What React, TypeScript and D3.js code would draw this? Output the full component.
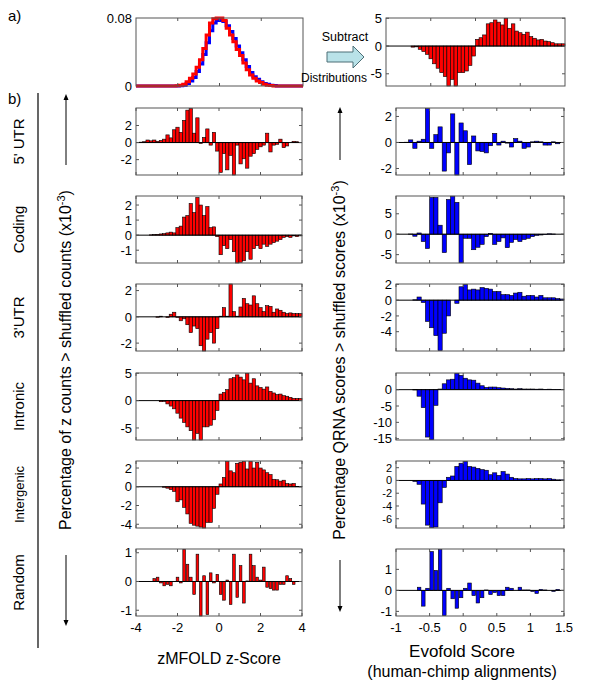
import React, { useEffect, useRef } from 'react';
import * as d3 from 'd3';

// zMFOLD z-score histogram bins: -4 .. 4, width 0.16
const zStep = 0.16;
const zEdges = d3.range(50).map((i) => -4 + i * zStep);
// Evofold score histogram bins: -1 .. 1.5, width 0.0625
const evoStep = 0.0625;
const evoEdges = d3.range(40).map((i) => -1 + i * evoStep);

// panel a) left: z-score densities (real vs shuffled)
const realZDensity = [
  0, 0, 0, 0, 0, 0, 0, 0, 0, 0,
  0, 0, 0.0003, 0.001, 0.002, 0.005, 0.009, 0.014, 0.022, 0.031,
  0.044, 0.06, 0.074, 0.079, 0.08, 0.08, 0.077, 0.068, 0.06, 0.052,
  0.043, 0.036, 0.027, 0.019, 0.013, 0.009, 0.006, 0.004, 0.002, 0.001,
  0.0005, 0, 0, 0, 0, 0, 0, 0, 0, 0,
];
const shuffledZDensity = [
  0, 0, 0, 0, 0, 0, 0, 0, 0, 0,
  0, 0, 0, 0.0003, 0.001, 0.003, 0.006, 0.01, 0.017, 0.026,
  0.037, 0.051, 0.065, 0.074, 0.077, 0.077, 0.076, 0.071, 0.064, 0.056,
  0.047, 0.039, 0.031, 0.023, 0.016, 0.011, 0.008, 0.005, 0.003, 0.002,
  0.001, 0.0005, 0, 0, 0, 0, 0, 0, 0, 0,
];

// panel b) left column: zMFOLD differences (x10^-3)
const utr5Z = [
  0, 0.05, 0.1, 0.3, 0.2, 0.3, 0.15, 0.25, 0.4, 0.9,
  0.55, 1.5, 1.8, 1.2, 2.6, 3.8, 4.0, 1.1, 2.9, -0.1,
  0.6, 1.6, -0.3, 1.2, -1.0, -3.5, -1.3, -3.2, -1.5, -3.8,
  -0.3, -2.5, -1.9, -3.0, -1.6, -1.3, -0.8, -0.5, -0.3, 1.1,
  -1.1, -0.3, -0.2, 0.4, -0.6, -0.4, 0, 0.15, 0.1, 0,
];
const codingZ = [
  0, 0, 0, 0, 0.02, 0.03, 0.05, 0.08, 0.1, 0.15,
  0.2, 0.15, 0.5, 0.6, 1.2, 1.3, 2.1, 1.5, 2.5, 2.0,
  1.3, 1.9, 0.5, 0.55, -0.1, -1.3, -0.7, -0.9, -0.3, -1.1,
  -1.85, -1.8, -1.7, -1.1, -1.6, -0.9, -0.7, -0.9, -0.6, -0.75,
  -0.6, -0.5, -0.4, -0.3, -0.15, -0.1, -0.15, -0.05, -0.1, -0.05,
];
const utr3Z = [
  0, 0, 0, 0, 0, 0, -0.03, 0.05, 0, -0.05,
  0.2, 0.35, -0.05, -0.3, -0.15, -0.6, -1.2, -0.7, -0.9, -2.2,
  -2.6, -1.7, -1.2, -2.0, -0.9, 0.05, 0.7, 0.05, 2.5, 0.4,
  0.05, 0.75, 1.4, 1.0, 0.9, 1.6, 1.0, 0.7, 0.4, 0.85,
  0.8, 0.35, 0.6, 0.5, 0.35, 0.25, 0.3, 0.25, 0.25, 0.25,
];
const intronicZ = [
  0, 0, 0, 0, 0, 0, 0, -0.2, -0.15, -0.6,
  -1.0, -1.5, -2.3, -3.2, -4.0, -4.8, -5.5, -7.2, -6.0, -7.2,
  -4.8, -4.8, -4.5, -3.5, -1.8, 1.2, 1.5, 2.0, 4.0, 4.2,
  4.7, 4.3, 3.8, 5.0, 3.2, 4.0, 2.7, 2.4, 2.1, 2.5,
  1.7, 1.4, 1.1, 1.2, 0.9, 0.8, 0.6, 0.4, 0.4, 0.4,
];
const intergenicZ = [
  0, 0, 0, 0, 0, 0, 0, 0, -0.05, -0.15,
  -0.3, -0.5, -1.6, -1.4, -2.2, -2.9, -3.9, -4.1, -4.2, -4.3,
  -4.4, -3.8, -3.8, -2.3, -0.8, 0.3, 1.0, 2.7, 1.7, 1.5,
  2.5, 2.6, 2.7, 1.9, 2.7, 2.0, 2.6, 2.0, 1.8, 1.5,
  1.3, 0.8, 0.75, 0.6, 0.7, 0.35, 0.3, 0.35, 0.05, 0.05,
];
const randomZ = [
  0, 0, 0, 0, 0, 0.1, 0.15, -0.05, -0.15, -0.1,
  -0.15, 0, 0.15, -0.05, 1.12, 0.6, 0.15, -0.45, 0.95, -1.2,
  0.2, -1.15, 0.3, -0.05, 0.25, -0.45, -0.65, 0.05, -0.8, 0.95,
  -0.55, 0.55, -0.75, 0.02, 0.95, 0.55, 0.15, 0.05, 0.5, -0.2,
  -0.25, -0.3, -0.3, -0.1, -0.1, 0.2, 0.1, -0.1, 0, 0,
];

// panel b) right column: QRNA/Evofold differences (x10^-3)
const utr5Evo = [
  0, 0, 0.02, 0.2, -0.45, 0.1, 0.25, 2.6, -0.45, 0.6,
  1.2, -2.2, -0.8, 2.2, -2.5, 1.5, 0.9, -1.7, 0.5, -0.65,
  -0.7, -0.8, -0.25, 0.7, -0.2, 0.1, -0.05, -0.35, 0.3, 0.1,
  -0.45, -0.35, 0.05, 0.1, 0.05, -0.2, -0.2, 0.05, -0.1, 0,
];
const codingEvo = [
  0, 0, 0, 0.05, -0.5, 0.3, -1.8, -3.5, 9.0, 9.0,
  2.2, -4.5, 8.5, 9.3, 7.8, -7.0, -1.0, -1.0, -3.8, -3.2,
  -2.5, -0.6, 0.2, -2.5, -1.8, -0.9, -3.3, -2.0, -1.3, -1.8,
  -1.3, -1.0, -0.6, -0.3, -0.2, -0.1, 0.1, 0.05, 0, 0,
];
const utr3Evo = [
  0, 0, 0, 0, 0.05, 0.4, -0.3, -2.7, -3.5, -4.5,
  -6.4, -4.2, -2.0, 0, -0.4, 1.7, 2.0, 1.3, 1.4, 1.3,
  1.6, 1.5, 1.4, 1.1, 1.1, 0.7, 0.7, 0.6, 0.9, 1.0,
  0.5, 0.6, 0.6, 0.4, 0.6, 0.3, 0.3, 0.3, 0.2, 0.15,
];
const intronicEvo = [
  0, 0, 0, 0, -0.1, -2.0, -5.5, -14.5, -15.3, -4.8,
  0.2, 1.8, 3.0, 3.2, 5.0, 4.4, 3.5, 3.0, 2.9, 2.0,
  1.2, 0.7, 0.8, 0.8, 0.6, 0.5, 0.4, 0.3, 0.2, 0.3,
  0.2, 0.2, 0.2, 0.15, 0.2, 0.1, 0.15, 0.1, 0.1, 0.1,
];
const intergenicEvo = [
  0, 0, 0, 0, -0.15, -0.6, -3.7, -7.0, -7.4, -7.3,
  -3.5, -1.1, 0.5, 0.7, 2.2, 2.7, 3.0, 2.2, 2.1, 1.9,
  1.7, 1.6, 0.9, 1.2, 0.8, 1.4, 1.0, 0.5, 0.3, 0.25,
  0.25, 0.3, 0.25, 0.3, 0.3, 0.25, 0.3, 0.2, 0.1, 0.1,
];
const randomEvo = [
  0, 0, 0, 0, 0, 0.15, -0.75, 0.1, 1.85, 0.95,
  1.95, -1.2, 0.1, -0.4, -0.85, -0.35, 0.1, 0.35, -0.25, -0.6,
  -0.35, 0.02, -0.2, -0.1, -0.25, -0.25, 0.15, 0.1, 0, 0.15,
  0.02, 0.02, -0.05, -0.15, 0.05, 0.02, 0, -0.05, 0.05, 0,
];

const rowNames = ["5' UTR", 'Coding', "3'UTR", 'Intronic', 'Intergenic', 'Random'];
const zSeries = [utr5Z, codingZ, utr3Z, intronicZ, intergenicZ, randomZ];
const evoSeries = [utr5Evo, codingEvo, utr3Evo, intronicEvo, intergenicEvo, randomEvo];
const zDomains = [[-3.8, 4.05], [-1.85, 2.6], [-2.6, 2.5], [-7.2, 5.05], [-4.4, 2.75], [-1.2, 1.13]];
const evoDomains = [[-2.5, 2.65], [-7.05, 9.35], [-6.45, 2.05], [-15.4, 5.1], [-7.45, 3.05], [-1.22, 1.97]];
const zYTicks = [[-2, 0, 2], [-1, 0, 1, 2], [-2, 0, 2], [-5, 0, 5], [-4, -2, 0, 2], [-1, 0, 1]];
const evoYTicks = [[-2, 0, 2], [-5, 0, 5], [-4, -2, 0, 2], [-15, -10, -5, 0], [-6, -4, -2, 0, 2], [-1, 0, 1]];
const zXTicks = [-4, -2, 0, 2, 4];
const evoXTicks = [-1, -0.5, 0, 0.5, 1, 1.5];

const App = () => {
  const svgRef = useRef<SVGSVGElement>(null);

  useEffect(() => {
    const svg = d3.select(svgRef.current);
    svg.selectAll('*').remove();
    const font = 'Arial, "Liberation Sans", sans-serif';

    // axes frame with inward MATLAB-style ticks
    const frame = (x, y, xTicks, yTicks, showX, fs = 13) => {
      const [l, r] = x.range();
      const [b, t] = y.range();
      const g = svg.append('g');
      g.append('line').attr('x1', l).attr('x2', r).attr('y1', y(0)).attr('y2', y(0))
        .attr('stroke', '#000').attr('stroke-width', 1);
      g.append('rect').attr('x', l).attr('y', t).attr('width', r - l).attr('height', b - t)
        .attr('fill', 'none').attr('stroke', '#555').attr('stroke-width', 1);
      xTicks.forEach((v) => {
        g.append('line').attr('x1', x(v)).attr('x2', x(v)).attr('y1', b).attr('y2', b - 3).attr('stroke', '#555');
        g.append('line').attr('x1', x(v)).attr('x2', x(v)).attr('y1', t).attr('y2', t + 3).attr('stroke', '#555');
        if (showX) {
          g.append('text').attr('x', x(v)).attr('y', b + 16).attr('text-anchor', 'middle')
            .style('font', `13px ${font}`).text(String(v));
        }
      });
      yTicks.forEach((v) => {
        g.append('line').attr('x1', l).attr('x2', l + 3).attr('y1', y(v)).attr('y2', y(v)).attr('stroke', '#555');
        g.append('line').attr('x1', r).attr('x2', r - 3).attr('y1', y(v)).attr('y2', y(v)).attr('stroke', '#555');
        g.append('text').attr('x', l - 4).attr('y', y(v)).attr('dy', '0.36em').attr('text-anchor', 'end')
          .style('font', `${fs}px ${font}`).text(String(v));
      });
    };

    const bars = (x, y, edges, step, values, color, frac) => {
      const data = values.map((v, i) => ({ v, e: edges[i] })).filter((d) => d.v !== 0);
      svg.append('g').selectAll('rect').data(data).join('rect')
        .attr('x', (d) => x(d.e + (step * (1 - frac)) / 2))
        .attr('width', (d) => x(d.e + (step * (1 + frac)) / 2) - x(d.e + (step * (1 - frac)) / 2))
        .attr('y', (d) => y(Math.max(0, d.v)))
        .attr('height', (d) => Math.abs(y(d.v) - y(0)))
        .attr('fill', color)
        .attr('stroke', '#000')
        .attr('stroke-width', 0.6);
    };

    // ---- panel a) ----
    const ax = d3.scaleLinear().domain([-4, 4]).range([136, 303]);
    const ay = d3.scaleLinear().domain([0, 0.08]).range([86, 18]);
    const stairs = (vals) => {
      const pts = vals.map((v, i) => [zEdges[i], v]);
      pts.push([4, vals[vals.length - 1]]);
      return d3.line().x((d) => ax(d[0])).y((d) => ay(d[1])).curve(d3.curveStepAfter)(pts);
    };
    svg.append('path').attr('d', stairs(shuffledZDensity)).attr('fill', 'none')
      .attr('stroke', '#0000ff').attr('stroke-width', 3);
    svg.append('path').attr('d', stairs(realZDensity)).attr('fill', 'none')
      .attr('stroke', '#ff0000').attr('stroke-width', 3);
    const axf = svg.append('g');
    axf.append('rect').attr('x', 136).attr('y', 18).attr('width', 167).attr('height', 68)
      .attr('fill', 'none').attr('stroke', '#555');
    zXTicks.slice(1, 4).forEach((v) => {
      axf.append('line').attr('x1', ax(v)).attr('x2', ax(v)).attr('y1', 18).attr('y2', 21).attr('stroke', '#555');
      axf.append('line').attr('x1', ax(v)).attr('x2', ax(v)).attr('y1', 86).attr('y2', 83).attr('stroke', '#555');
    });
    [0, 0.08].forEach((v) => {
      axf.append('text').attr('x', 132).attr('y', ay(v)).attr('dy', '0.36em').attr('text-anchor', 'end')
        .style('font', `13px ${font}`).text(String(v));
    });

    const arx = d3.scaleLinear().domain([-4, 4]).range([386, 565]);
    const ary = d3.scaleLinear().domain([-7.2, 5.05]).range([86, 18]);
    bars(arx, ary, zEdges, zStep, intronicZ, '#ff0000', 1);
    frame(arx, ary, zXTicks.slice(1, 4), [-5, 0, 5], false);

    // subtract arrow
    svg.append('polygon')
      .attr('points', '327,52 353,52 353,46 364,57 353,68 353,62 327,62')
      .attr('fill', '#b9e2e8').attr('stroke', '#4d6f76').attr('stroke-width', 1);
    svg.append('text').attr('x', 345).attr('y', 41).attr('text-anchor', 'middle')
      .style('font', `12.5px ${font}`).text('Subtract');
    svg.append('text').attr('x', 334).attr('y', 82).attr('text-anchor', 'middle')
      .style('font', `12px ${font}`).text('Distributions');

    svg.append('text').attr('x', 8).attr('y', 21).style('font', `15px ${font}`).text('a)');
    svg.append('text').attr('x', 8).attr('y', 104).style('font', `15px ${font}`).text('b)');

    // ---- panel b) ----
    const rowTops = [108, 196, 284, 373, 461, 549];
    const ph = 67;
    rowTops.forEach((top, r) => {
      const last = r === rowTops.length - 1;
      const frac = last ? 0.8 : 1;
      const lx = d3.scaleLinear().domain([-4, 4]).range([136, 302]);
      const ly = d3.scaleLinear().domain(zDomains[r]).range([top + ph, top]);
      bars(lx, ly, zEdges, zStep, zSeries[r], '#ff0000', frac);
      frame(lx, ly, zXTicks, zYTicks[r], last);

      const rx = d3.scaleLinear().domain([-1, 1.5]).range([396, 564]);
      const ry = d3.scaleLinear().domain(evoDomains[r]).range([top + ph, top]);
      bars(rx, ry, evoEdges, evoStep, evoSeries[r], '#0000ff', last ? 0.85 : 1);
      frame(rx, ry, evoXTicks, evoYTicks[r], last, r === 4 ? 11 : 13);

      svg.append('text')
        .attr('transform', `translate(24,${top + ph / 2}) rotate(-90)`)
        .attr('text-anchor', 'middle')
        .style('font', `${r === 4 ? 13 : 15}px ${font}`)
        .text(rowNames[r]);
    });

    // separator line next to row names
    svg.append('line').attr('x1', 38).attr('x2', 38).attr('y1', 93).attr('y2', 648)
      .attr('stroke', '#000').attr('stroke-width', 1.2);

    // rotated y labels with arrows
    const yLabel = (cx, cy, label, topTip, topEnd, botStart, botTip) => {
      const t = svg.append('text')
        .attr('transform', `translate(${cx},${cy}) rotate(-90)`)
        .attr('text-anchor', 'middle')
        .style('font', `16px ${font}`);
      t.append('tspan').text(label);
      t.append('tspan').attr('dy', -6).style('font-size', '11px').text('-3');
      t.append('tspan').attr('dy', 6).text(')');
      const ax0 = cx - 5;
      svg.append('line').attr('x1', ax0).attr('x2', ax0).attr('y1', topEnd).attr('y2', topTip + 4).attr('stroke', '#000');
      svg.append('path').attr('d', `M${ax0 - 2.5},${topTip + 6}L${ax0},${topTip}L${ax0 + 2.5},${topTip + 6}Z`).attr('fill', '#000');
      svg.append('line').attr('x1', ax0).attr('x2', ax0).attr('y1', botStart).attr('y2', botTip - 4).attr('stroke', '#000');
      svg.append('path').attr('d', `M${ax0 - 2.5},${botTip - 6}L${ax0},${botTip}L${ax0 + 2.5},${botTip - 6}Z`).attr('fill', '#000');
    };
    yLabel(71, 360, 'Percentage of z counts > shuffled counts (x10', 94, 165, 555, 626);
    yLabel(345, 360, 'Percentage QRNA scores > shuffled scores (x10', 107, 160, 560, 612);

    // x axis titles
    svg.append('text').attr('x', 219).attr('y', 664).attr('text-anchor', 'middle')
      .style('font', `16px ${font}`).text('zMFOLD z-Score');
    svg.append('text').attr('x', 462).attr('y', 657).attr('text-anchor', 'middle')
      .style('font', `17px ${font}`).text('Evofold Score');
    svg.append('text').attr('x', 462).attr('y', 677).attr('text-anchor', 'middle')
      .style('font', `16px ${font}`).text('(human-chimp alignments)');
  }, []);

  return (
    <svg
      ref={svgRef}
      width={600}
      height={685}
      style={{ position: 'absolute', left: 0, top: 0, background: '#fff' }}
    />
  );
};

export default App;
